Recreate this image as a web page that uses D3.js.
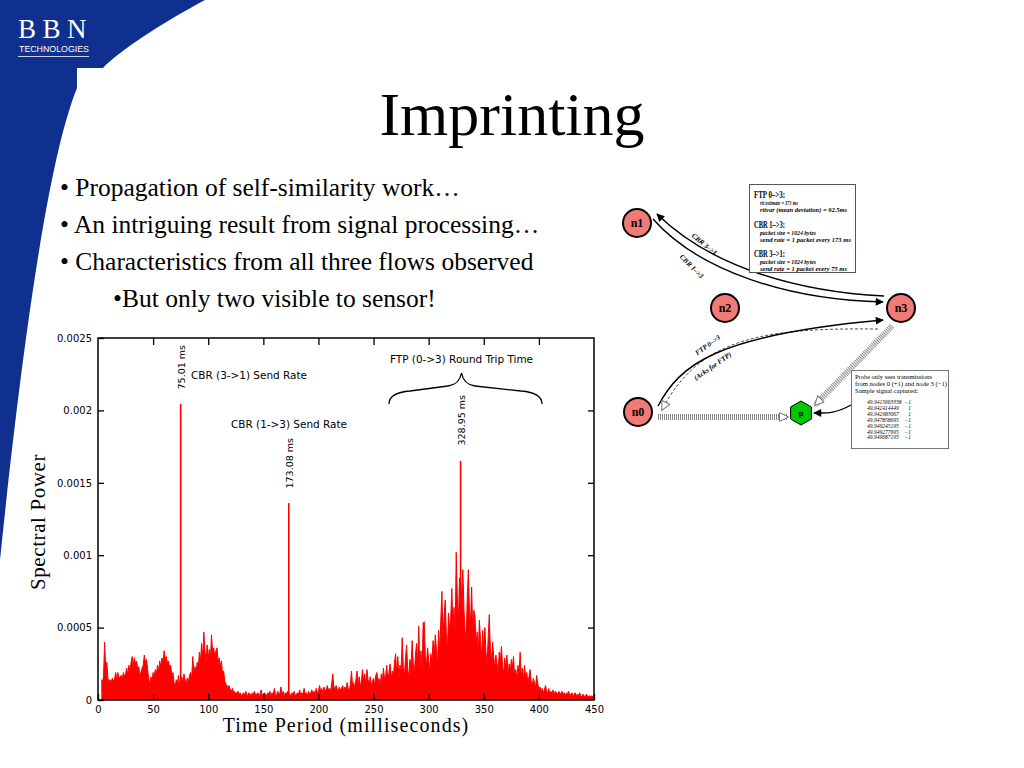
<!DOCTYPE html>
<html>
<head>
<meta charset="utf-8">
<title>Imprinting</title>
<script src="https://d3js.org/d3.v7.min.js"></script>
<style>
  body { margin: 0; background: #fff; }
  svg { display: block; }
</style>
</head>
<body>
<div id="slide"></div>
<script>
// spectrum samples, one per ms starting at 3 ms, in units of 1e-4
var firstTime = 3;
var powerE4 = [
  1.4, 1.2, 1.6, 4.0, 2.2, 2.6, 1.5, 1.3, 1.4, 1.2, 1.5, 1.3, 1.4, 1.9, 1.4, 1.9, 1.5, 1.6,
  1.7, 1.4, 1.9, 1.6, 1.8, 2.2, 1.7, 2.4, 2.0, 2.6,
  3.0, 2.4, 2.9, 2.5, 2.7, 2.1, 2.3, 1.7, 1.9, 2.2,
  2.4, 3.1, 2.6, 2.8, 2.1, 1.5, 1.0, 1.6, 1.3, 1.9,
  1.6, 2.1, 1.8, 2.4, 2.0, 2.7, 2.3, 2.9, 2.6, 3.4,
  2.8, 3.0, 2.5, 2.7, 2.2, 2.4, 1.6, 1.9, 1.2, 0.9,
  1.4, 1.1, 1.7, 1.0, 1.3, 1.6, 1.2, 1.8, 1.4, 1.1,
  1.5, 1.2, 1.7, 1.9, 1.5, 3.0, 1.8, 2.3, 1.9, 2.6,
  2.2, 3.3, 2.7, 3.9, 2.9, 4.7, 3.4, 2.6, 3.8, 2.9,
  3.5, 2.8, 4.5, 3.3, 3.6, 2.9, 3.4, 3.6, 2.6, 2.9,
  2.3, 2.7, 1.8, 2.0, 1.3, 1.1, 1.0, 0.8, 1.0, 0.7,
  0.6, 0.8, 0.5, 0.6, 0.4, 0.5, 0.6, 0.4, 0.5, 0.3,
  0.4, 0.5, 0.3, 0.6, 0.4, 0.3, 0.5, 0.4, 0.3, 0.5,
  0.4, 0.6, 0.3, 0.4, 0.5, 0.3, 0.4, 0.7, 0.3, 0.4,
  0.5, 0.4, 0.3, 0.5, 0.4, 0.6, 0.3, 0.5, 0.4, 0.8,
  0.4, 0.3, 0.6, 0.4, 0.5, 0.9, 0.4, 0.6, 0.3, 0.5,
  0.4, 0.6, 0.5, 0.4, 0.3, 0.5, 0.4, 0.6, 0.3, 0.4,
  0.5, 0.4, 0.7, 0.3, 0.5, 0.4, 0.8, 0.4, 0.5, 0.3,
  0.6, 0.4, 0.5, 0.7, 0.4, 0.6, 0.5, 0.8, 0.5, 0.6,
  1.0, 0.6, 0.8, 0.5, 0.9, 0.7, 0.6, 1.0, 0.7, 0.8,
  0.6, 1.1, 1.8, 0.9, 0.7, 1.0, 0.8, 0.6, 0.9, 0.7,
  0.8, 1.0, 0.6, 0.9, 0.7, 1.2, 0.8, 0.6, 1.1, 2.0,
  0.9, 1.2, 0.8, 1.4, 2.0, 1.1, 1.6, 0.9, 1.3, 2.1,
  1.2, 1.8, 1.0, 2.1, 1.4, 1.1, 1.6, 0.9, 1.3, 1.5,
  1.0, 1.7, 1.9, 1.2, 1.5, 0.9, 1.8, 1.3, 2.2, 1.4,
  1.7, 2.4, 1.3, 1.9, 2.5, 1.4, 2.0, 1.6, 2.6, 3.2,
  1.8, 3.0, 1.5, 2.4, 2.0, 4.3, 2.2, 1.7, 2.9, 3.8,
  2.1, 1.6, 2.8, 2.3, 4.1, 2.5, 1.8, 3.1, 3.9, 2.6,
  5.1, 2.2, 3.4, 2.0, 5.3, 5.4, 3.0, 2.4, 3.6, 2.8,
  1.9, 3.2, 2.6, 4.1, 3.0, 4.5, 3.5, 2.3, 4.8, 3.3,
  5.5, 7.5, 4.2, 5.8, 6.9, 4.6, 3.2, 6.0, 4.9, 5.6,
  7.7, 5.0, 6.4, 4.4, 10.2, 7.1, 5.5, 8.4, 6.2, 7.6,
  9.0, 6.3, 4.8, 4.2, 7.0, 9.0, 6.1, 5.3, 7.8, 4.6,
  6.2, 5.8, 3.9, 4.7, 3.1, 5.5, 4.2, 2.9, 4.8, 3.6,
  5.0, 3.3, 2.5, 4.3, 5.9, 3.4, 2.7, 4.0, 3.0, 2.2,
  3.1, 2.5, 1.9, 3.3, 2.6, 3.7, 2.4, 1.8, 2.9, 2.2,
  3.1, 1.7, 2.5, 1.9, 2.8, 2.3, 3.0, 1.6, 2.1, 1.5,
  2.4, 1.8, 3.3, 1.6, 2.2, 1.4, 2.4, 1.5, 1.9, 1.2,
  1.6, 2.1, 1.3, 1.0, 1.5, 1.2, 0.9, 1.7, 1.1, 0.8,
  0.9, 0.6, 0.8, 0.5, 0.7, 1.0, 0.6, 0.5, 0.8, 0.4,
  0.6, 0.5, 0.7, 0.4, 0.6, 0.5, 0.4, 0.6, 0.5, 0.4,
  0.6, 0.4, 0.5, 0.3, 0.5, 0.4, 0.6, 0.3, 0.4, 0.5,
  0.3, 0.4, 0.5, 0.3, 0.4, 0.3, 0.5, 0.3, 0.2, 0.4,
  0.3, 0.2, 0.4, 0.3, 0.2, 0.3, 0.2, 0.3, 0.2, 0.3
];

// the three sharp spectral lines
var peakTimes = [75.01, 173.08, 328.95];
var peakPower = [0.002045, 0.00136, 0.00165];
var peakLabels = ["75.01 ms", "173.08 ms", "328.95 ms"];

var xTicks = [0, 50, 100, 150, 200, 250, 300, 350, 400, 450];
var yTicks = [0, 0.0005, 0.001, 0.0015, 0.002, 0.0025];
var yTickLabels = ["0", "0.0005", "0.001", "0.0015", "0.002", "0.0025"];

var bullets = [
  "\u2022 Propagation of self-similarity work\u2026",
  "\u2022 An intriguing result from signal processing\u2026",
  "\u2022 Characteristics from all three flows observed",
  "\u2022But only two visible to sensor!"
];

var sampleTimes = ["49.9415663338", "49.942414449", "49.942983067", "49.947858695",
                   "49.949245195", "49.949277695", "49.949687195"];
var sampleValues = ["\u22121", "1", "1", "\u22121", "\u22121", "\u22121", "\u22121"];

var width = 1024, height = 768;
var serif = "'Liberation Serif', 'Times New Roman', serif";
var sans = "'DejaVu Sans', sans-serif";
var blue = "#10308f";

var svg = d3.select("#slide").append("svg")
    .attr("width", width)
    .attr("height", height);

// ---- slide background: blue corner ----
svg.append("path")
    .attr("d", "M0,0 L205,0 C160,24 118,52 103,68 L77,68 L77,88 C58,135 32,250 0,560 Z")
    .attr("fill", blue);

// logo
svg.append("text").attr("x", 18).attr("y", 38)
    .attr("font-family", serif).attr("font-size", 27).attr("fill", "#fff")
    .attr("letter-spacing", 6.5).text("BBN");
svg.append("text").attr("x", 19).attr("y", 51.5)
    .attr("font-family", "'Liberation Sans', Arial, sans-serif").attr("font-size", 8.5)
    .attr("fill", "#fff").attr("textLength", 70).attr("lengthAdjust", "spacingAndGlyphs")
    .text("TECHNOLOGIES");
svg.append("line").attr("x1", 18).attr("x2", 89).attr("y1", 56.5).attr("y2", 56.5)
    .attr("stroke", "#fff").attr("stroke-width", 0.8);

// title
svg.append("text").attr("x", 512).attr("y", 135).attr("text-anchor", "middle")
    .attr("font-family", serif).attr("font-size", 62).text("Imprinting");

// bullets
svg.selectAll(".bullet").data(bullets).enter().append("text")
    .attr("class", "bullet")
    .attr("x", function (d, i) { return i == 3 ? 113 : 60; })
    .attr("y", function (d, i) { return 196 + i * 37; })
    .attr("font-family", serif).attr("font-size", 25.5)
    .text(function (d) { return d; });

// ---- spectrum chart ----
var x = d3.scaleLinear().domain([0, 450]).range([98, 594]);
var y = d3.scaleLinear().domain([0, 0.0025]).range([700, 338]);

var samples = powerE4.map(function (v, i) { return { t: firstTime + i, p: v * 1e-4 }; });

var chart = svg.append("g");

chart.append("path")
    .datum(samples)
    .attr("fill", "#ff0000")
    .attr("d", d3.area()
        .x(function (d) { return x(d.t); })
        .y0(y(0))
        .y1(function (d) { return y(d.p); }));

chart.append("path")
    .datum(samples)
    .attr("fill", "none")
    .attr("stroke", "#ff0000")
    .attr("stroke-width", 1)
    .attr("d", d3.line()
        .x(function (d) { return x(d.t); })
        .y(function (d) { return y(d.p); }));

chart.selectAll(".peak").data(peakTimes).enter().append("line")
    .attr("class", "peak")
    .attr("x1", function (d) { return x(d); })
    .attr("x2", function (d) { return x(d); })
    .attr("y1", y(0))
    .attr("y2", function (d, i) { return y(peakPower[i]); })
    .attr("stroke", "#ff0000")
    .attr("stroke-width", 1.6);

// frame and axes (ticks pointing inward)
chart.append("rect")
    .attr("x", x(0)).attr("y", y(0.0025))
    .attr("width", x(450) - x(0)).attr("height", y(0) - y(0.0025))
    .attr("fill", "none").attr("stroke", "#000").attr("stroke-width", 1.5);

function styleAxis(g) {
    g.select(".domain").remove();
    g.selectAll("line").attr("stroke", "#000").attr("stroke-width", 1.3);
    g.selectAll("text").attr("font-family", sans).attr("font-size", 10).attr("fill", "#000");
}

chart.append("g")
    .attr("transform", "translate(0," + y(0) + ")")
    .call(d3.axisBottom(x).tickValues(xTicks).tickFormat(d3.format("d")).tickSizeInner(-6).tickPadding(6))
    .call(styleAxis);

chart.append("g")
    .attr("transform", "translate(0," + y(0.0025) + ")")
    .call(d3.axisTop(x).tickValues(xTicks.slice(1, -1)).tickFormat("").tickSizeInner(-7))
    .call(styleAxis);

chart.append("g")
    .attr("transform", "translate(" + x(0) + ",0)")
    .call(d3.axisLeft(y).tickValues(yTicks)
        .tickFormat(function (d, i) { return yTickLabels[i]; })
        .tickSizeInner(-6).tickPadding(6))
    .call(styleAxis);

chart.append("g")
    .attr("transform", "translate(" + x(450) + ",0)")
    .call(d3.axisRight(y).tickValues(yTicks.slice(1, -1)).tickFormat("").tickSizeInner(-6))
    .call(styleAxis);

// axis titles
svg.append("text")
    .attr("transform", "translate(45," + 522 + ") rotate(-90)")
    .attr("text-anchor", "middle")
    .attr("font-family", serif).attr("font-size", 21).attr("letter-spacing", 0.6)
    .text("Spectral Power");

svg.append("text")
    .attr("x", 346).attr("y", 732).attr("text-anchor", "middle")
    .attr("font-family", serif).attr("font-size", 20).attr("letter-spacing", 1.1)
    .text("Time Period (milliseconds)");

// peak annotations
var peakLabelTop = [345, 438, 395];
chart.selectAll(".peakLabel").data(peakTimes).enter().append("text")
    .attr("class", "peakLabel")
    .attr("transform", function (d, i) {
        return "translate(" + (x(d) + 4) + "," + peakLabelTop[i] + ") rotate(-90)";
    })
    .attr("text-anchor", "end")
    .attr("font-family", sans).attr("font-size", 9.5)
    .text(function (d, i) { return peakLabels[i]; });

var notes = [
    { t: "CBR (3->1) Send Rate", x: 191, y: 379, w: 116 },
    { t: "CBR (1->3) Send Rate", x: 231, y: 428, w: 116 },
    { t: "FTP (0->3) Round Trip Time", x: 390, y: 363, w: 143 }
];
chart.selectAll(".note").data(notes).enter().append("text")
    .attr("class", "note")
    .attr("x", function (d) { return d.x; })
    .attr("y", function (d) { return d.y; })
    .attr("font-family", sans).attr("font-size", 10)
    .attr("textLength", function (d) { return d.w; })
    .attr("lengthAdjust", "spacingAndGlyphs")
    .text(function (d) { return d.t; });

// brace over the FTP cluster
chart.append("path")
    .attr("d", "M389,404 C389,395 398,392 410,391 L448,386 C456,385 460,381 461.5,373 " +
               "C463,381 467,385 475,386 L521,391 C533,392 542,395 542,404")
    .attr("fill", "none").attr("stroke", "#000").attr("stroke-width", 1.3);

// ---- network diagram ----
var net = svg.append("g");
var defs = svg.append("defs");
defs.append("marker").attr("id", "solidArrow")
    .attr("viewBox", "0 0 10 10").attr("refX", 9).attr("refY", 5)
    .attr("markerWidth", 10).attr("markerHeight", 8).attr("markerUnits", "userSpaceOnUse")
    .attr("orient", "auto")
    .append("path").attr("d", "M0,0 L10,5 L0,10 Z").attr("fill", "#000");
defs.append("marker").attr("id", "hollowArrow")
    .attr("viewBox", "0 0 10 10").attr("refX", 9).attr("refY", 5)
    .attr("markerWidth", 14).attr("markerHeight", 10).attr("markerUnits", "userSpaceOnUse")
    .attr("orient", "auto")
    .append("path").attr("d", "M0.5,0.5 L9.5,5 L0.5,9.5 Z")
    .attr("fill", "#fff").attr("stroke", "#777").attr("stroke-width", 1);

var curves = [
    { d: "M884,296 C800,292 712,268 657,214", dash: null, w: 1.4, m: "solidArrow" },
    { d: "M653,219 C700,272 790,300 883,302", dash: null, w: 1.4, m: "solidArrow" },
    { d: "M658,406 C680,365 715,335 883,320", dash: null, w: 1.4, m: "solidArrow" },
    { d: "M878,329 C770,328 700,335 662,410", dash: "3,2", w: 0.7, m: "hollowArrow" },
    { d: "M851,405 C835,414 826,413 814,413", dash: null, w: 1.3, m: "solidArrow" }
];
net.selectAll(".edge").data(curves).enter().append("path")
    .attr("class", "edge")
    .attr("d", function (d) { return d.d; })
    .attr("fill", "none").attr("stroke", "#000")
    .attr("stroke-width", function (d) { return d.w; })
    .attr("stroke-dasharray", function (d) { return d.dash; })
    .attr("marker-end", function (d) { return "url(#" + d.m + ")"; });

// hatched probe links
var probeLinks = [
    { x1: 658, y1: 417, x2: 788, y2: 417 },
    { x1: 892, y1: 326, x2: 815, y2: 405 }
];
net.selectAll(".probe").data(probeLinks).enter().append("line")
    .attr("class", "probe")
    .attr("x1", function (d) { return d.x1; }).attr("y1", function (d) { return d.y1; })
    .attr("x2", function (d) { return d.x2; }).attr("y2", function (d) { return d.y2; })
    .attr("stroke", "#888").attr("stroke-width", 6).attr("stroke-dasharray", "1,1")
    .attr("marker-end", "url(#hollowArrow)");

var nodes = [
    { id: "n1", x: 637, y: 223 },
    { id: "n2", x: 725, y: 308 },
    { id: "n3", x: 901, y: 308 },
    { id: "n0", x: 638, y: 412 }
];
var ng = net.selectAll(".node").data(nodes).enter().append("g")
    .attr("transform", function (d) { return "translate(" + d.x + "," + d.y + ")"; });
ng.append("circle").attr("r", 14).attr("fill", "#f27a76").attr("stroke", "#000").attr("stroke-width", 2);
ng.append("text").attr("y", 4).attr("text-anchor", "middle")
    .attr("font-family", serif).attr("font-weight", "bold").attr("font-size", 12)
    .text(function (d) { return d.id; });

var hex = d3.range(6).map(function (k) {
    var a = Math.PI / 6 + k * Math.PI / 3;
    return [801 + 12 * Math.cos(a), 413 + 12 * Math.sin(a)];
});
net.append("path").attr("d", d3.line()(hex) + "Z")
    .attr("fill", "#00c800").attr("stroke", "#000").attr("stroke-width", 1);
net.append("text").attr("x", 801).attr("y", 416).attr("text-anchor", "middle")
    .attr("font-family", serif).attr("font-weight", "bold").attr("font-size", 9).text("p");

// labels along the links
var edgeLabels = [
    { t: "CBR 3\u2013>1", x: 703, y: 246, a: 39 },
    { t: "CBR 1\u2013>3", x: 690, y: 268, a: 45 },
    { t: "FTP 0\u2013>3", x: 709, y: 347, a: -36 },
    { t: "(Acks for FTP)", x: 714, y: 368, a: -35 }
];
net.selectAll(".elabel").data(edgeLabels).enter().append("text")
    .attr("transform", function (d) { return "translate(" + d.x + "," + d.y + ") rotate(" + d.a + ")"; })
    .attr("text-anchor", "middle")
    .attr("font-family", serif).attr("font-style", "italic").attr("font-weight", "bold")
    .attr("font-size", 7)
    .text(function (d) { return d.t; });

// info box
net.append("rect").attr("x", 749.5).attr("y", 184.5).attr("width", 106).attr("height", 88)
    .attr("fill", "#fff").attr("stroke", "#555").attr("stroke-width", 1);
var infoLines = [
    { t: "FTP 0\u2013>3:", y: 198, head: true, w: 31 },
    { t: "rtt estimate = 371 ms", y: 205, w: 38 },
    { t: "rttvar (mean deviation) = 92.5ms", y: 212, w: 87 },
    { t: "CBR 1\u2013>3:", y: 228, head: true, w: 31 },
    { t: "packet size = 1024 bytes", y: 235, w: 56 },
    { t: "send rate = 1 packet every 173 ms", y: 242, w: 91 },
    { t: "CBR 3\u2013>1:", y: 257, head: true, w: 31 },
    { t: "packet size = 1024 bytes", y: 264, w: 56 },
    { t: "send rate = 1 packet every 75 ms", y: 270.5, w: 87 }
];
net.selectAll(".info").data(infoLines).enter().append("text")
    .attr("x", function (d) { return d.head ? 754 : 760; })
    .attr("y", function (d) { return d.y; })
    .attr("font-family", serif).attr("font-weight", "bold")
    .attr("font-style", function (d) { return d.head ? "normal" : "italic"; })
    .attr("font-size", function (d) { return d.head ? 9.5 : 6; })
    .attr("textLength", function (d) { return d.w; })
    .attr("lengthAdjust", "spacingAndGlyphs")
    .text(function (d) { return d.t; });

// probe box
net.append("rect").attr("x", 851.5).attr("y", 370.5).attr("width", 97).attr("height", 78)
    .attr("fill", "#fff").attr("stroke", "#777").attr("stroke-width", 1);
var probeText = [
    { t: "Probe only sees transmissions", y: 379, w: 77 },
    { t: "from nodes 0 (+1) and node 3 (\u22121)", y: 386, w: 92 },
    { t: "Sample signal captured:", y: 393, w: 63 }
];
net.selectAll(".ptext").data(probeText).enter().append("text")
    .attr("x", 855).attr("y", function (d) { return d.y; })
    .attr("font-family", serif).attr("font-size", 7)
    .attr("textLength", function (d) { return d.w; })
    .attr("lengthAdjust", "spacingAndGlyphs")
    .text(function (d) { return d.t; });
net.selectAll(".stime").data(sampleTimes).enter().append("text")
    .attr("x", 867).attr("y", function (d, i) { return 404 + i * 5.9; })
    .attr("font-family", serif).attr("font-style", "italic").attr("font-size", 5.5)
    .text(function (d) { return d; });
net.selectAll(".sval").data(sampleValues).enter().append("text")
    .attr("x", 911).attr("y", function (d, i) { return 404 + i * 5.9; })
    .attr("text-anchor", "end")
    .attr("font-family", serif).attr("font-style", "italic").attr("font-size", 5.5)
    .text(function (d) { return d; });
</script>
</body>
</html>
